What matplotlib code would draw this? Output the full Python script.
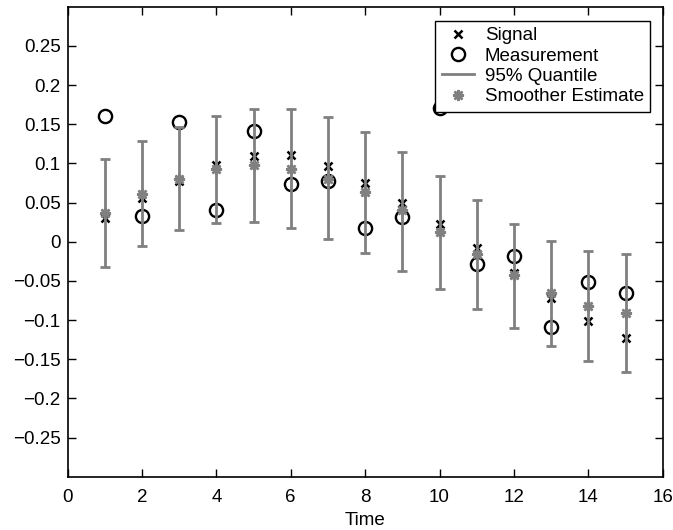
import matplotlib

matplotlib.use("Agg")
import matplotlib.pyplot as plt
import numpy as np
from matplotlib.lines import Line2D
from matplotlib.ticker import FuncFormatter

plt.rcParams["font.family"] = ["Liberation Sans", "DejaVu Sans"]
plt.rcParams["font.size"] = 13.5

time = np.arange(1, 16)
signal = [0.030, 0.056, 0.077, 0.098, 0.109, 0.111, 0.097, 0.075, 0.049,
          0.022, -0.008, -0.040, -0.072, -0.101, -0.123]
measurement = [0.161, 0.033, 0.153, 0.040, 0.141, 0.074, 0.077, 0.018, 0.032,
               0.171, -0.029, -0.018, -0.109, -0.052, -0.066]
smoother = [0.037, 0.061, 0.080, 0.093, 0.098, 0.093, 0.080, 0.063, 0.040,
            0.012, -0.016, -0.043, -0.065, -0.082, -0.091]
upper = [0.106, 0.128, 0.147, 0.161, 0.170, 0.169, 0.159, 0.140, 0.114,
         0.084, 0.053, 0.023, 0.001, -0.012, -0.016]
lower = [-0.032, -0.006, 0.015, 0.024, 0.025, 0.018, 0.004, -0.015, -0.037,
         -0.061, -0.086, -0.110, -0.133, -0.152, -0.166]

gray = "#808080"


def tick_label(v, pos):
    v = round(v, 2)
    if v == 0:
        return "0"
    return f"{v:g}".replace("-", "\u2212")


fig = plt.figure(figsize=(6.73, 5.30), dpi=100)
ax = fig.add_axes([0.1003, 0.1006, 0.8845, 0.8867])

sm = np.array(smoother)
yerr = [sm - np.array(lower), np.array(upper) - sm]

ax.plot(time, signal, linestyle="none", marker="x", color="black",
        markersize=6, markeredgewidth=1.8)
ax.plot(time, measurement, linestyle="none", marker="o", markerfacecolor="none",
        markeredgecolor="black", markersize=9.5, markeredgewidth=1.7)
ax.errorbar(time, smoother, yerr=yerr, fmt="none", ecolor=gray,
            elinewidth=2, capsize=3.6, capthick=2)
ax.plot(time, smoother, linestyle="none", marker=(8, 2, 0), color=gray,
        markersize=8, markeredgewidth=1.8)

ax.set_xlim(0, 16)
ax.set_ylim(-0.3, 0.3)
ax.set_xticks(np.arange(0, 17, 2))
ax.set_yticks(np.round(np.arange(-0.25, 0.26, 0.05), 2))
ax.yaxis.set_major_formatter(FuncFormatter(tick_label))
ax.tick_params(direction="in", top=True, right=True, length=6, width=1,
               labelsize=13.5)
ax.tick_params(axis="y", pad=5)
ax.tick_params(axis="x", pad=9)
for spine in ax.spines.values():
    spine.set_linewidth(1.2)
ax.set_xlabel("Time", labelpad=4)

handles = [
    Line2D([], [], linestyle="none", marker="x", color="black",
           markersize=6, markeredgewidth=1.8),
    Line2D([], [], linestyle="none", marker="o", markerfacecolor="none",
           markeredgecolor="black", markersize=9.5, markeredgewidth=1.7),
    Line2D([], [], color=gray, linewidth=2),
    Line2D([], [], linestyle="none", marker=(8, 2, 0), color=gray,
           markersize=8, markeredgewidth=1.8),
]
labels = ["Signal", "Measurement", "95% Quantile", "Smoother Estimate"]
leg = ax.legend(handles, labels, loc="upper right",
                bbox_to_anchor=(1 - 12.3 / 595.5, 1 - 14 / 470),
                borderaxespad=0, fancybox=False, framealpha=1,
                edgecolor="black", handlelength=1.7, handletextpad=0.6,
                labelspacing=0.17, borderpad=0.35, fontsize=13.5)
leg.get_frame().set_linewidth(1.0)

fig.savefig("out.png", dpi=100)
